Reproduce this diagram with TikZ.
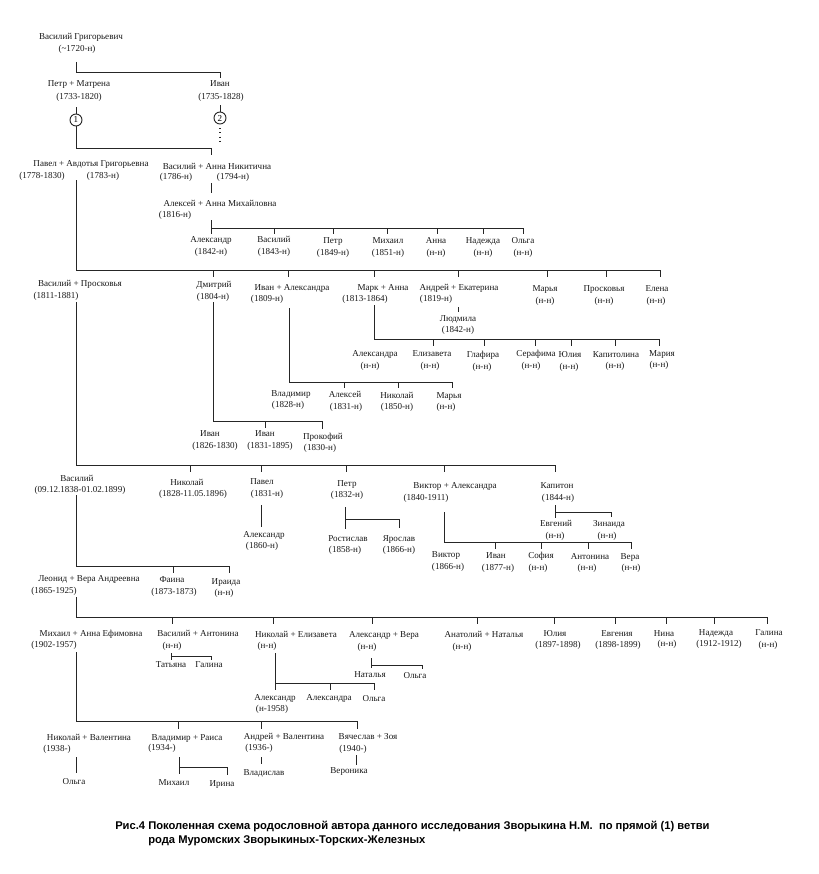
\documentclass[tikz,border=0pt]{standalone}
\usepackage{fontspec}
\setmainfont{Liberation Serif}
\newfontfamily\capfont{Liberation Sans}
\begin{document}
\begin{tikzpicture}[x=0.75pt,y=-0.75pt,
  t/.style={anchor=base,inner sep=0pt,font=\fontsize{6.8}{8}\selectfont,text=black!90},
  ln/.style={line width=0.7pt,draw=black!85},
  circ/.style={circle,draw=black!85,line width=0.7pt,inner sep=0pt,minimum size=9pt,font=\fontsize{6.8}{8}\selectfont},
  captext/.style={anchor=base west,inner sep=0pt,font=\capfont\bfseries\fontsize{8.4}{10}\selectfont}]
\useasboundingbox (0,0) rectangle (818,874);
\fill[white] (0,0) rectangle (818,874);

% generation 0
\node[t] (vg) at (81,40) {Василий Григорьевич};
\node[t] (vgd) at (77,52) {(\textasciitilde 1720-н)};
\draw[ln] (76,62) -- (76,72) -- (220,72) -- (220,78);

% generation 1
\node[t] (pm) at (79,86) {Петр + Матрена};
\node[t] (pmd) at (79,99) {(1733-1820)};
\node[t] (iv) at (220,86) {Иван};
\node[t] (ivd) at (221,99) {(1735-1828)};
\node[circ] (c1) at (76,120) {1};
\node[circ] (c2) at (220,118) {2};
\draw[ln] (76,107) -- (c1.north);
\draw[ln] (c1.south) -- (76,148) -- (211,148) -- (211,155);
\draw[ln] (220,105) -- (c2.north);
\draw[line width=0.9pt,black!85,dash pattern=on 0.8pt off 2.4pt] (220,128) -- (220,143);

% generation 2
\node[t] (pa) at (91,166) {Павел + Авдотья Григорьевна};
\node[t] (pad1) at (42,178) {(1778-1830)};
\node[t] (pad2) at (103,178) {(1783-н)};
\node[t] (va) at (217,169) {Василий + Анна Никитична};
\node[t] (vad1) at (176,179) {(1786-н)};
\node[t] (vad2) at (233,179) {(1794-н)};
\draw[ln] (211,183) -- (211,193);
\node[t] (am) at (220,206) {Алексей + Анна Михайловна};
\node[t] (amd) at (175,217) {(1816-н)};
\draw[ln] (211,220) -- (211,234);
\draw[ln] (211,228) -- (523,228);
\foreach \x in {274,333,387,437,483,523} \draw[ln] (\x,228) -- (\x,234);

\node[t] (a1) at (211,242) {Александр}; \node[t] (a1d) at (211,254) {(1842-н)};
\node[t] (a2) at (274,242) {Василий};   \node[t] (a2d) at (274,254) {(1843-н)};
\node[t] (a3) at (333,243) {Петр};      \node[t] (a3d) at (333,255) {(1849-н)};
\node[t] (a4) at (388,243) {Михаил};    \node[t] (a4d) at (388,255) {(1851-н)};
\node[t] (a5) at (436,243) {Анна};      \node[t] (a5d) at (436,255) {(н-н)};
\node[t] (a6) at (483,243) {Надежда};   \node[t] (a6d) at (483,255) {(н-н)};
\node[t] (a7) at (523,243) {Ольга};     \node[t] (a7d) at (523,255) {(н-н)};

% main line and Pavel's children
\draw[ln] (76,180) -- (76,270) -- (660,270);
\foreach \x in {213,288,374,458,547,606,660} \draw[ln] (\x,270) -- (\x,277);

\node[t] (vp) at (80,286) {Василий + Просковья};
\node[t] (vpd) at (56,298) {(1811-1881)};
\node[t] (dm) at (214,287) {Дмитрий};
\node[t] (dmd) at (213,299) {(1804-н)};
\node[t] (ia) at (292,290) {Иван + Александра};
\node[t] (iad) at (267,301) {(1809-н)};
\node[t] (mk) at (383,290) {Марк + Анна};
\node[t] (mkd) at (365,301) {(1813-1864)};
\node[t] (ae) at (459,290) {Андрей + Екатерина};
\node[t] (aed) at (436,301) {(1819-н)};
\node[t] (mr) at (545,291) {Марья};     \node[t] (mrd) at (545,303) {(н-н)};
\node[t] (pr) at (604,291) {Просковья}; \node[t] (prd) at (604,303) {(н-н)};
\node[t] (el) at (657,291) {Елена};     \node[t] (eld) at (656,303) {(н-н)};

\draw[ln] (458,307) -- (458,312);
\node[t] (lu) at (458,321) {Людмила};
\node[t] (lud) at (458,332) {(1842-н)};

\draw[ln] (374,305) -- (374,339) -- (659,339);
\foreach \x in {433,484,535,571,615,659} \draw[ln] (\x,339) -- (\x,346);
\node[t] (m1) at (375,356) {Александра}; \node[t] (m1d) at (370,368) {(н-н)};
\node[t] (m2) at (432,356) {Елизавета};  \node[t] (m2d) at (430,368) {(н-н)};
\node[t] (m3) at (483,357) {Глафира};    \node[t] (m3d) at (482,369) {(н-н)};
\node[t] (m4) at (536,356) {Серафима};   \node[t] (m4d) at (531,368) {(н-н)};
\node[t] (m5) at (570,357) {Юлия};       \node[t] (m5d) at (569,369) {(н-н)};
\node[t] (m6) at (616,357) {Капитолина}; \node[t] (m6d) at (615,368) {(н-н)};
\node[t] (m7) at (662,356) {Мария};      \node[t] (m7d) at (659,367) {(н-н)};

\draw[ln] (289,308) -- (289,382) -- (452,382);
\foreach \x in {344,398,452} \draw[ln] (\x,382) -- (\x,388);
\node[t] (i1) at (291,396) {Владимир}; \node[t] (i1d) at (288,407) {(1828-н)};
\node[t] (i2) at (345,397) {Алексей};  \node[t] (i2d) at (346,409) {(1831-н)};
\node[t] (i3) at (397,398) {Николай};  \node[t] (i3d) at (397,409) {(1850-н)};
\node[t] (i4) at (449,398) {Марья};    \node[t] (i4d) at (446,409) {(н-н)};

\draw[ln] (213,302) -- (213,421) -- (322,421) -- (322,429);
\draw[ln] (265,421) -- (265,428);
\node[t] (d1) at (210,436) {Иван};     \node[t] (d1d) at (215,448) {(1826-1830)};
\node[t] (d2) at (265,436) {Иван};     \node[t] (d2d) at (270,448) {(1831-1895)};
\node[t] (d3) at (323,439) {Прокофий}; \node[t] (d3d) at (320,450) {(1830-н)};

% Vasily + Proskovya children
\draw[ln] (76,302) -- (76,465) -- (555,465);
\foreach \x in {190,261,346,444,555} \draw[ln] (\x,465) -- (\x,472);
\node[t] (v2) at (77,481) {Василий};
\node[t] (v2d) at (80,492) {(09.12.1838-01.02.1899)};
\node[t] (n1) at (187,485) {Николай};
\node[t] (n1d) at (193,496) {(1828-11.05.1896)};
\node[t] (p2) at (262,484) {Павел};
\node[t] (p2d) at (267,496) {(1831-н)};
\draw[ln] (261,505) -- (261,527);
\node[t] (x2) at (264,537) {Александр};
\node[t] (x2d) at (262,548) {(1860-н)};
\node[t] (pt) at (347,486) {Петр};
\node[t] (ptd) at (347,497) {(1832-н)};
\draw[ln] (345,507) -- (345,529);
\draw[ln] (345,519) -- (399,519) -- (399,528);
\node[t] (r1) at (348,541) {Ростислав}; \node[t] (r1d) at (345,552) {(1858-н)};
\node[t] (r2) at (399,541) {Ярослав};   \node[t] (r2d) at (399,552) {(1866-н)};
\node[t] (vk) at (455,488) {Виктор + Александра};
\node[t] (vkd) at (426,500) {(1840-1911)};
\draw[ln] (444,512) -- (444,542) -- (631,542);
\foreach \x in {495,541,588,631} \draw[ln] (\x,542) -- (\x,549);
\node[t] (k1) at (446,557) {Виктор};   \node[t] (k1d) at (448,569) {(1866-н)};
\node[t] (k2) at (496,558) {Иван};     \node[t] (k2d) at (498,570) {(1877-н)};
\node[t] (k3) at (541,558) {София};    \node[t] (k3d) at (538,570) {(н-н)};
\node[t] (k4) at (590,559) {Антонина}; \node[t] (k4d) at (587,570) {(н-н)};
\node[t] (k5) at (630,559) {Вера};     \node[t] (k5d) at (631,570) {(н-н)};
\node[t] (kp) at (557,488) {Капитон};
\node[t] (kpd) at (558,500) {(1844-н)};
\draw[ln] (555,505) -- (555,518);
\draw[ln] (555,512) -- (611,512) -- (611,517);
\node[t] (e1) at (556,526) {Евгений}; \node[t] (e1d) at (555,538) {(н-н)};
\node[t] (e2) at (609,526) {Зинаида}; \node[t] (e2d) at (607,538) {(н-н)};

% Vasily's children
\draw[ln] (76,495) -- (76,566) -- (229,566) -- (229,573);
\draw[ln] (173,566) -- (173,573);
\node[t] (le) at (89,581) {Леонид + Вера Андреевна};
\node[t] (led) at (54,593) {(1865-1925)};
\node[t] (fa) at (172,582) {Фаина};
\node[t] (fad) at (174,594) {(1873-1873)};
\node[t] (ir) at (226,584) {Ираида};
\node[t] (ird) at (224,595) {(н-н)};

% Leonid's children
\draw[ln] (76,597) -- (76,617) -- (767,617);
\foreach \x in {172,273,372,477,554,615,666,714,767} \draw[ln] (\x,617) -- (\x,624);
\node[t] (mh) at (91,636) {Михаил + Анна Ефимовна};
\node[t] (mhd) at (54,647) {(1902-1957)};
\node[t] (vt) at (198,636) {Василий + Антонина};
\node[t] (vtd) at (172,648) {(н-н)};
\node[t] (ne) at (296,637) {Николай + Елизавета};
\node[t] (ned) at (267,648) {(н-н)};
\node[t] (av) at (384,637) {Александр + Вера};
\node[t] (avd) at (367,649) {(н-н)};
\node[t] (an) at (484,637) {Анатолий + Наталья};
\node[t] (anat) at (462,649) {(н-н)};
\node[t] (yu) at (555,636) {Юлия};    \node[t] (yud) at (558,647) {(1897-1898)};
\node[t] (eg) at (617,636) {Евгения}; \node[t] (egd) at (618,647) {(1898-1899)};
\node[t] (ni) at (664,636) {Нина};    \node[t] (nid) at (667,646) {(н-н)};
\node[t] (nd) at (716,635) {Надежда}; \node[t] (ndd) at (719,646) {(1912-1912)};
\node[t] (ga) at (769,635) {Галина};  \node[t] (gad) at (768,647) {(н-н)};

\draw[ln] (171,653) -- (171,660);
\draw[ln] (171,656) -- (211,656) -- (211,660);
\node[t] (t1) at (171,667) {Татьяна};
\node[t] (t2) at (209,667) {Галина};

\draw[ln] (275,653) -- (275,690);
\draw[ln] (275,683) -- (374,683) -- (374,690);
\draw[ln] (330,683) -- (330,690);
\node[t] (y1) at (275,700) {Александр};
\node[t] (y1d) at (272,711) {(н-1958)};
\node[t] (y2) at (329,700) {Александра};
\node[t] (y3) at (374,701) {Ольга};

\draw[ln] (371,658) -- (371,668);
\draw[ln] (371,665) -- (422,665) -- (422,669);
\node[t] (w1) at (370,677) {Наталья};
\node[t] (w2) at (415,678) {Ольга};

% Mikhail's children
\draw[ln] (76,652) -- (76,721) -- (357,721) -- (357,729);
\foreach \x in {178,261} \draw[ln] (\x,721) -- (\x,729);
\node[t] (g1) at (89,740) {Николай + Валентина};
\node[t] (g1d) at (57,751) {(1938-)};
\draw[ln] (76,757) -- (76,773);
\node[t] (g1a) at (74,784) {Ольга};
\node[t] (g2) at (187,740) {Владимир + Раиса};
\node[t] (g2d) at (162,750) {(1934-)};
\draw[ln] (179,757) -- (179,774);
\draw[ln] (179,767) -- (227,767) -- (227,775);
\node[t] (g2a) at (174,785) {Михаил};
\node[t] (g2b) at (222,786) {Ирина};
\node[t] (g3) at (284,739) {Андрей + Валентина};
\node[t] (g3d) at (259,750) {(1936-)};
\draw[ln] (261,757) -- (261,764);
\node[t] (g3a) at (264,775) {Владислав};
\node[t] (g4) at (368,739) {Вячеслав + Зоя};
\node[t] (g4d) at (353,751) {(1940-)};
\draw[ln] (356,755) -- (356,765);
\node[t] (g4a) at (349,773) {Вероника};

% caption
\node[captext] (cap1) at (115,829) {Рис.4 Поколенная схема родословной автора данного исследования Зворыкина Н.М.\ \ по прямой (1) ветви};
\node[captext] (cap2) at (148,843) {рода Муромских Зворыкиных-Торских-Железных};
\end{tikzpicture}
\end{document}
